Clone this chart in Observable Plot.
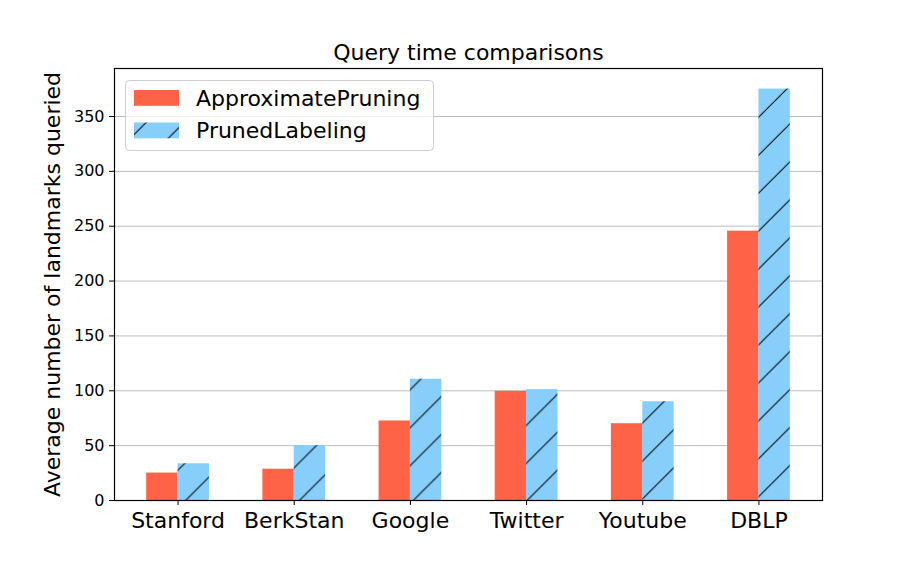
<!DOCTYPE html>
<html>
<head>
<meta charset="utf-8">
<script src="https://cdn.jsdelivr.net/npm/d3@7"></script>
<script src="https://cdn.jsdelivr.net/npm/@observablehq/plot@0.6"></script>
<style>
  html, body { margin: 0; padding: 0; background: #fff; }
  #wrap { position: relative; width: 913px; height: 571px; }
  #wrap svg { font-family: "DejaVu Sans", sans-serif; }
  #legend { position: absolute; left: 0; top: 0; pointer-events: none; }
</style>
</head>
<body>
<div id="wrap"></div>
<script>
// ---- data ----
const datasets = ["Stanford", "BerkStan", "Google", "Twitter", "Youtube", "DBLP"];
const approximatePruning = [25, 28.5, 72.5, 99.5, 70, 245.5];
const prunedLabeling = [33.5, 50, 110.5, 101, 90, 375];
const seriesNames = ["ApproximatePruning", "PrunedLabeling"];
const yTicks = [0, 50, 100, 150, 200, 250, 300, 350];

const W = 913, H = 571;
const barW = 0.27;
const red = "#ff6347", blue = "#87cefa";

const rows = datasets.map((name, i) => ({i, name, a: approximatePruning[i], p: prunedLabeling[i]}));

const chart = Plot.plot({
  width: W,
  height: H,
  marginLeft: 114,
  marginRight: 91,
  marginTop: 68,
  marginBottom: 71,
  style: {fontFamily: "DejaVu Sans, sans-serif", background: "white", color: "black"},
  x: {type: "linear", domain: [-0.547, 5.547]},
  y: {domain: [0, 393.75]},
  marks: [
    Plot.ruleY(yTicks.filter(t => t > 0), {stroke: "#bdbdbd", strokeWidth: 1}),
    Plot.rect(rows, {x1: d => d.i - barW, x2: d => d.i, y1: 0, y2: "a", fill: red}),
    Plot.rect(rows, {x1: d => d.i, x2: d => d.i + barW, y1: 0, y2: "p", fill: "url(#hatch)"}),
    Plot.frame({stroke: "black", strokeWidth: 1.2}),
    Plot.axisX({
      ticks: datasets.map((_, i) => i),
      tickFormat: i => datasets[i],
      tickSize: 5, tickPadding: 7, fontSize: 22, label: null, stroke: "black"
    }),
    Plot.axisY({
      ticks: yTicks, tickSize: 5, tickPadding: 5, fontSize: 16, label: null, stroke: "black"
    }),
    Plot.text(["Query time comparisons"], {
      frameAnchor: "top", dy: -9, lineAnchor: "bottom", fontSize: 22, fill: "black"
    }),
    Plot.text(["Average number of landmarks queried"], {
      frameAnchor: "left", dx: -55, rotate: -90, lineAnchor: "bottom", textAnchor: "middle",
      fontSize: 22, fill: "black"
    })
  ]
});

// hatch pattern (matplotlib-like "/" hatch)
const P = 37.95, off = 2.95;
const svg = d3.select(chart);
const defs = svg.insert("defs", ":first-child");
const pat = defs.append("pattern")
  .attr("id", "hatch")
  .attr("patternUnits", "userSpaceOnUse")
  .attr("width", P).attr("height", P)
  .attr("patternTransform", `translate(${off},0)`);
pat.append("rect").attr("width", P).attr("height", P).attr("fill", blue);
pat.append("path")
  .attr("d", `M0,${P}L${P},0M-2,2L2,-2M${P - 2},${P + 2}L${P + 2},${P - 2}`)
  .attr("stroke", "black").attr("stroke-width", 1).attr("fill", "none");

const wrap = document.getElementById("wrap");
wrap.appendChild(chart);

// legend overlay
const lg = d3.select(wrap).append("svg")
  .attr("id", "legend").attr("width", W).attr("height", H);
lg.append("rect")
  .attr("x", 125.5).attr("y", 80.5).attr("width", 308).attr("height", 70).attr("rx", 4)
  .attr("fill", "white").attr("fill-opacity", 0.8)
  .attr("stroke", "#cccccc").attr("stroke-width", 1);
const swatchFill = [red, "url(#hatch)"];
const rowY = [90, 122.5];
seriesNames.forEach((name, k) => {
  lg.append("rect")
    .attr("x", 134).attr("y", rowY[k]).attr("width", 45).attr("height", 15.8)
    .attr("fill", swatchFill[k]);
  lg.append("text")
    .attr("x", 196).attr("y", rowY[k] + 15.5)
    .attr("font-size", 22).attr("fill", "black")
    .style("font-family", "DejaVu Sans, sans-serif")
    .text(name);
});
</script>
</body>
</html>
